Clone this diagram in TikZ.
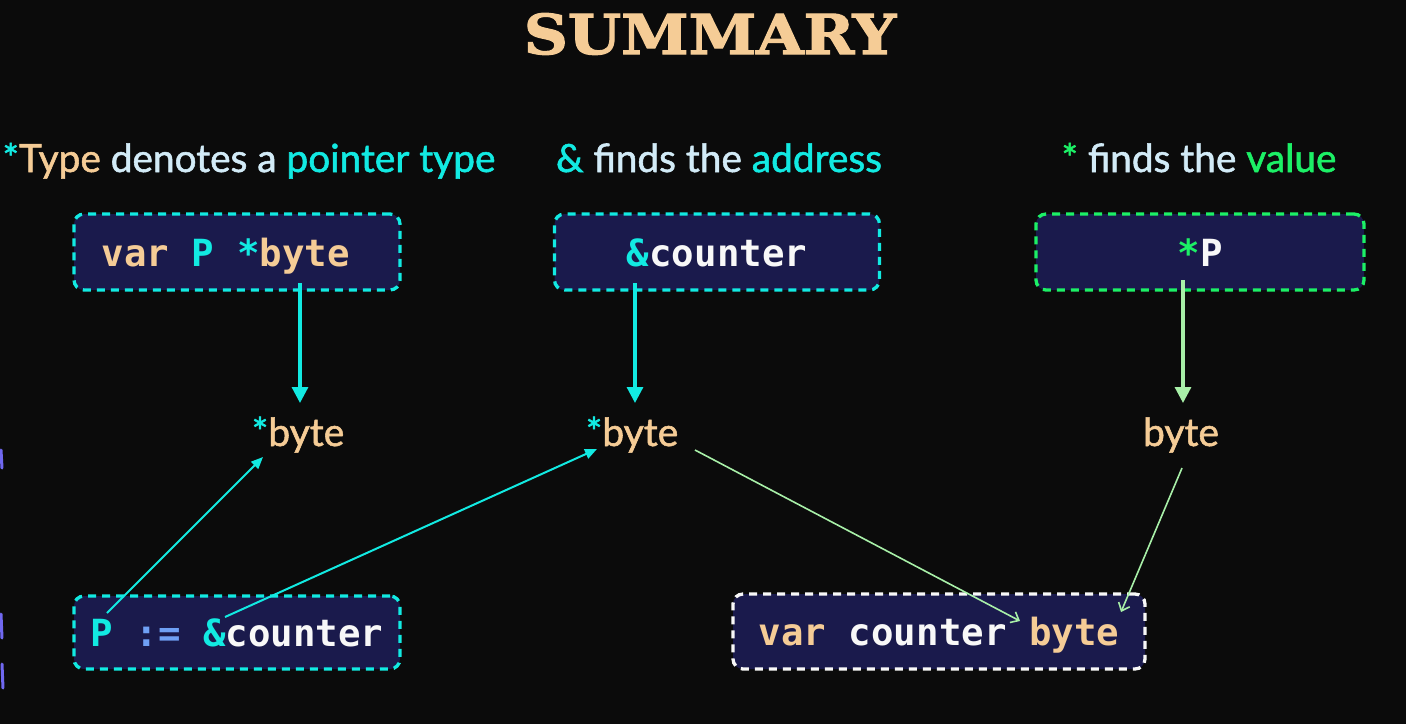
\documentclass[tikz,border=0pt]{standalone}
\usepackage{fontspec}
\usetikzlibrary{arrows.meta}
\setmainfont{Lato}
\newfontfamily\hdrfont[FakeBold=1.4]{Lato}
\newfontfamily\codefont{DejaVu Sans Mono}
\newfontfamily\titlefont[FakeStretch=1.11,FakeBold=2.2]{DejaVu Serif}
\definecolor{bg}{HTML}{0B0B0B}
\definecolor{boxfill}{HTML}{1A1A4C}
\definecolor{cyanc}{HTML}{12EAE2}
\definecolor{peach}{HTML}{F5CC96}
\definecolor{lblue}{HTML}{D2EBF7}
\definecolor{greenc}{HTML}{1CF066}
\definecolor{lgreen}{HTML}{A8F0A8}
\definecolor{bluec}{HTML}{6FA0F5}
\definecolor{whitec}{HTML}{F8F8F8}
\definecolor{purplec}{HTML}{7068F0}
\begin{document}
\begin{tikzpicture}[x=1pt,y=-1pt,
  hdr/.style={font=\hdrfont\fontsize{38.8}{45}\selectfont, anchor=base, inner sep=0pt},
  lbl/.style={font=\hdrfont\fontsize{39}{45}\selectfont, anchor=base, inner sep=0pt, text=peach},
  codebox/.style={draw, dash pattern=on 8pt off 6pt, line width=3.3pt, rounded corners=10pt,
    fill=boxfill, minimum height=76pt, inner sep=0pt, text height=30pt, text depth=2pt,
    font=\codefont\bfseries\fontsize{37.4}{44}\selectfont},
  cyv/.style={draw=cyanc, line width=3.2pt, -{Triangle[length=16pt,width=16pt]}},
  grv/.style={draw=lgreen, line width=3.2pt, -{Triangle[length=16pt,width=16pt]}},
  cyd/.style={draw=cyanc, line width=2pt, -{Triangle[length=12pt,width=10pt]}},
  grd/.style={draw=lgreen, line width=1.6pt, -{Straight Barb[length=7pt,width=12pt,line width=1.6pt]}},
  edgemark/.style={draw=purplec, line width=3pt, line cap=round}
]
\useasboundingbox (0,0) rectangle (1406,724);
\fill[bg] (0,0) rectangle (1406,724);

% title
\node[anchor=base, inner sep=0pt, text=peach, font=\titlefont\bfseries\fontsize{55}{60}\selectfont] (title) at (710,54) {SUMMARY};

% headers
\node[hdr] (h1) at (249,172) {\color{cyanc}*\color{peach}Type \color{lblue}denotes a \color{cyanc}pointer type};
\node[hdr] (h2) at (719,172) {\color{cyanc}\& \color{lblue}finds the \color{cyanc}address};
\node[hdr] (h3) at (1199,172) {\color{greenc}* \color{lblue}finds the \color{greenc}value};

% top boxes
\node[codebox, draw=cyanc, minimum width=326pt] (b1) at (237,252)
  {\color{peach}var \color{cyanc}P *\color{peach}byte\kern22.5pt};
\node[codebox, draw=cyanc, minimum width=325pt] (b2) at (717,252)
  {\color{cyanc}\&\color{whitec}counter};
\node[codebox, draw=greenc, minimum width=328pt] (b3) at (1200,252)
  {\color{greenc}*\color{whitec}P};

% middle labels
\node[lbl] (l1) at (298,446) {\color{cyanc}*\color{peach}byte};
\node[lbl] (l2) at (632,446) {\color{cyanc}*\color{peach}byte};
\node[lbl] (l3) at (1181,446) {byte};

% bottom boxes
\node[codebox, draw=cyanc, minimum width=326pt, minimum height=73pt] (b4) at (237,632.5)
  {\color{cyanc}P \color{bluec}:= \color{cyanc}\&\color{whitec}counter};
\node[codebox, draw=whitec, minimum width=412pt, minimum height=75pt] (b5) at (939,631.5)
  {\color{peach}var \color{whitec}counter \color{peach}byte};

% connector ends
\coordinate (b1out) at (300,283);
\coordinate (l1in) at (300,403);
\coordinate (b2out) at (635,283);
\coordinate (l2in) at (635,403);
\coordinate (b3out) at (1183,280);
\coordinate (l3in) at (1183,403);
\coordinate (b4p) at (107,613);
\coordinate (l1low) at (263,457);
\coordinate (b4amp) at (225,617);
\coordinate (l2low) at (597,449);
\coordinate (l2right) at (695,450);
\coordinate (b5byte) at (1020,621);
\coordinate (l3low) at (1182,468);
\coordinate (b5end) at (1121,612);

\draw[cyv] (b1out) -- (l1in);
\draw[cyv] (b2out) -- (l2in);
\draw[grv] (b3out) -- (l3in);
\draw[cyd] (b4p) -- (l1low);
\draw[cyd] (b4amp) -- (l2low);
\draw[grd] (l2right) -- (b5byte);
\draw[grd] (l3low) -- (b5end);

% edge marks
\draw[edgemark] (1,450) -- (2,468);
\draw[edgemark] (1,614) -- (2,638);
\draw[edgemark] (2,664) -- (3,688);
\end{tikzpicture}
\end{document}
